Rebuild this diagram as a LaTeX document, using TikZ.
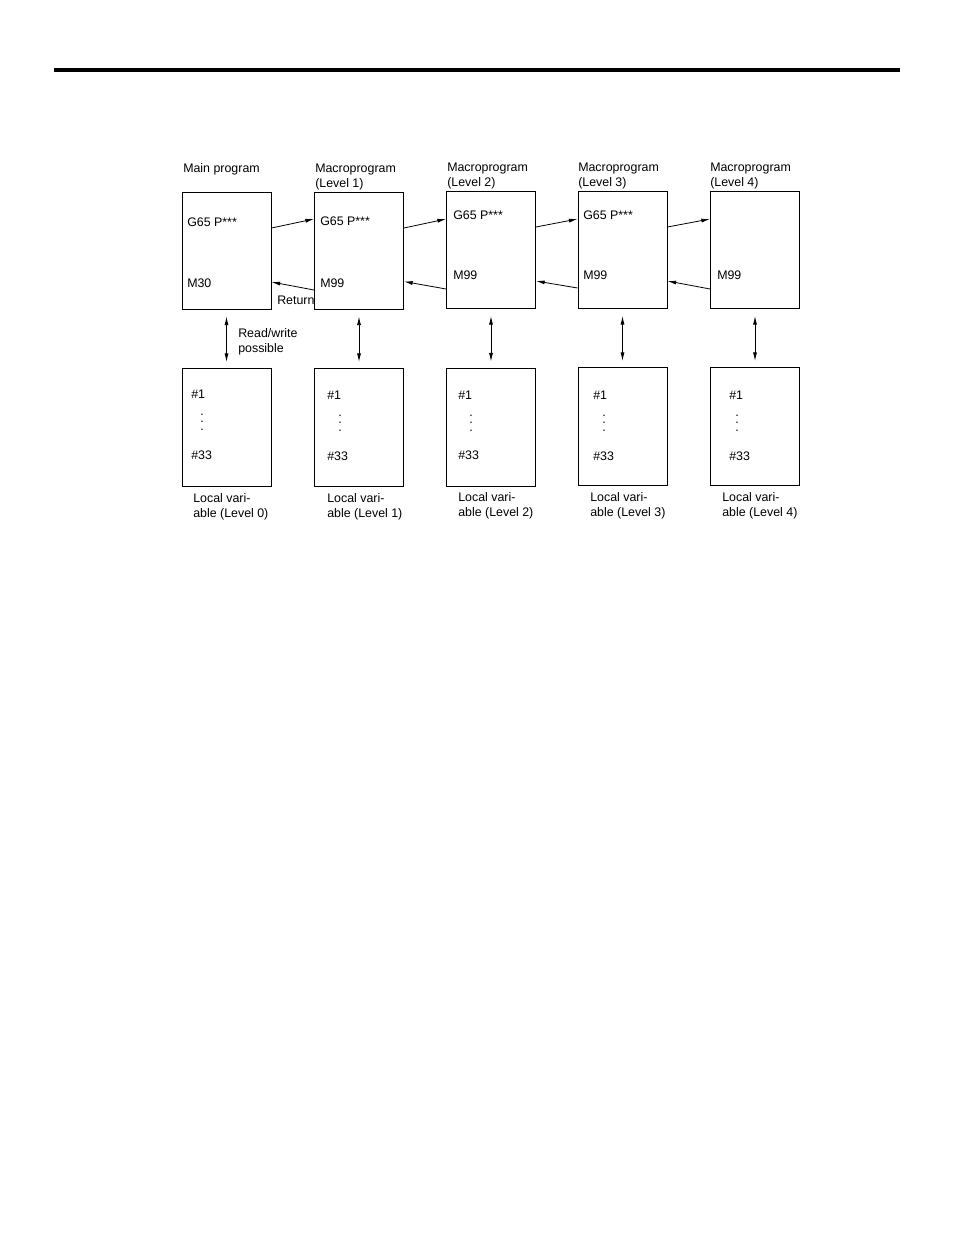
\documentclass[tikz,border=0pt]{standalone}
\usepackage{fontspec}
\setmainfont{Liberation Sans}
\usetikzlibrary{calc}
\usetikzlibrary{arrows.meta}

\begin{document}
\begin{tikzpicture}[x=0.75pt,y=-0.75pt,
        prog/.style={draw, line width=0.7pt, minimum width=66.75pt, minimum height=87.75pt, inner sep=0pt},
        locvar/.style={prog, minimum height=88.5pt},
        txt/.style={anchor=base west, inner sep=0pt, align=left, font=\fontsize{9.3}{11.25}\selectfont},
        vdot/.style={anchor=base, inner sep=0pt, align=center, font=\fontsize{9.3}{5.6}\selectfont},
        call/.style={-{Latex[length=6.5pt,width=3pt]}, line width=0.6pt},
        rw/.style={{Latex[length=6.5pt,width=3pt]}-{Latex[length=6.5pt,width=3pt]}, line width=0.6pt, shorten <=5.25pt, shorten >=4.5pt}]
        \useasboundingbox (0,0) rectangle (954,1235);
        \draw[line width=3pt](54,69.5)--(900,69.5);

        \node[prog] (prog0) at (226.5,250.5){};
        \node[prog] (prog1) at (359,250.5){};
        \node[prog] (prog2) at (491,250){};
        \node[prog] (prog3) at (622.5,250){};
        \node[prog] (prog4) at (755,250){};
        \node[locvar] (var0) at (226.5,427.5){};
        \node[locvar] (var1) at (359,427.5){};
        \node[locvar] (var2) at (491,427){};
        \node[locvar] (var3) at (622.5,426.5){};
        \node[locvar] (var4) at (755,426.5){};

        \node[txt] (title0) at (183,172){Main program};
        \node[txt] (title1) at (315,187){Macroprogram\\(Level 1)};
        \node[txt] (title2) at (447,186){Macroprogram\\(Level 2)};
        \node[txt] (title3) at (578,186){Macroprogram\\(Level 3)};
        \node[txt] (title4) at (710,186){Macroprogram\\(Level 4)};

        \node[txt] (call0) at (187,226){G65 P***};
        \node[txt] (call1) at (320,225){G65 P***};
        \node[txt] (call2) at (453,219){G65 P***};
        \node[txt] (call3) at (583,219){G65 P***};
        \node[txt] (end0) at (187,287){M30};
        \node[txt] (end1) at (320,287){M99};
        \node[txt] (end2) at (453,279){M99};
        \node[txt] (end3) at (583,279){M99};
        \node[txt] (end4) at (717,279){M99};
        \node[txt] (return) at (277,304){Return};
        \node[txt] (rwlabel) at (238,352){Read/write\\possible};

        \node[txt] (first0) at (191,398){\#1};
        \node[txt] (first1) at (327,399){\#1};
        \node[txt] (first2) at (458,399){\#1};
        \node[txt] (first3) at (593,399){\#1};
        \node[txt] (first4) at (729,399){\#1};
        \node[vdot] (dots0) at (202,430){.\\.\\.};
        \node[vdot] (dots1) at (340,431){.\\.\\.};
        \node[vdot] (dots2) at (471,431){.\\.\\.};
        \node[vdot] (dots3) at (604,431){.\\.\\.};
        \node[vdot] (dots4) at (737,431){.\\.\\.};
        \node[txt] (last0) at (191,459){\#33};
        \node[txt] (last1) at (327,460){\#33};
        \node[txt] (last2) at (458,459){\#33};
        \node[txt] (last3) at (593,460){\#33};
        \node[txt] (last4) at (729,460){\#33};

        \node[txt] (lv0) at (193,517){Local vari-\\able (Level 0)};
        \node[txt] (lv1) at (327,517){Local vari-\\able (Level 1)};
        \node[txt] (lv2) at (458,516){Local vari-\\able (Level 2)};
        \node[txt] (lv3) at (590,516){Local vari-\\able (Level 3)};
        \node[txt] (lv4) at (722,516){Local vari-\\able (Level 4)};

        \draw[call] ($(prog0.east)+(0,-22.5)$)--($(prog1.west)+(0,-31.5)$);
        \draw[call] ($(prog1.east)+(0,-22.5)$)--($(prog2.west)+(0,-31)$);
        \draw[call] ($(prog2.east)+(0,-23)$)--($(prog3.west)+(0,-31)$);
        \draw[call] ($(prog3.east)+(0,-23)$)--($(prog4.west)+(0,-31)$);
        \draw[call] ($(prog1.west)+(0,39.5)$)--($(prog0.east)+(0,31.5)$);
        \draw[call] ($(prog2.west)+(0,39)$)--($(prog1.east)+(0,31)$);
        \draw[call] ($(prog3.west)+(0,38)$)--($(prog2.east)+(0,31)$);
        \draw[call] ($(prog4.west)+(0,39)$)--($(prog3.east)+(0,31)$);

        \draw[rw] (prog0.south)--(var0.north);
        \draw[rw] (prog1.south)--(var1.north);
        \draw[rw] (prog2.south)--(var2.north);
        \draw[rw] (prog3.south)--(var3.north);
        \draw[rw] (prog4.south)--(var4.north);
    \end{tikzpicture}
\end{document}
